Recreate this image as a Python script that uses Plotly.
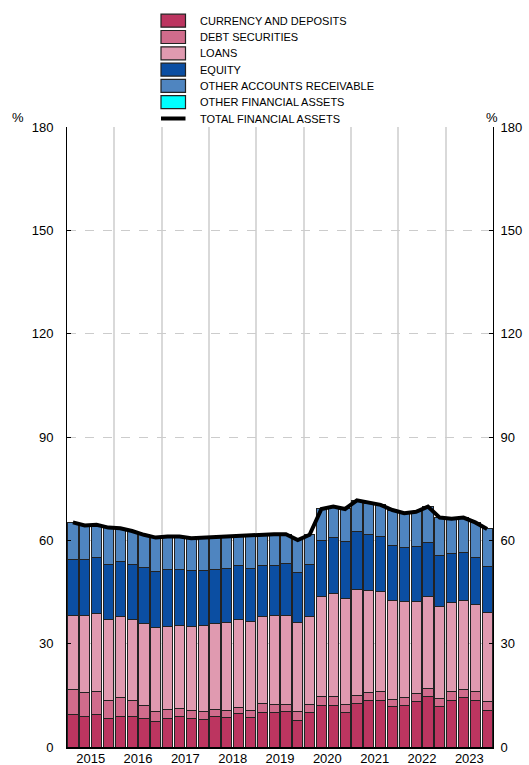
import plotly.graph_objects as go

quarters = [f"{y}Q{q}" for y in range(2015, 2024) for q in range(1, 5)]
years = ["2015", "2016", "2017", "2018", "2019", "2020", "2021", "2022", "2023"]

currency = [9.3, 9.0, 9.3, 8.2, 9.0, 8.9, 8.3, 7.3, 8.3, 8.8, 8.4, 8.1, 9.0, 8.6, 9.6, 8.6,
            10.0, 9.9, 10.2, 7.6, 9.9, 12.1, 12.1, 9.9, 12.5, 13.4, 13.6, 11.7, 12.1, 13.1, 14.8, 11.7,
            13.5, 14.4, 13.5, 10.7]
debt = [7.4, 6.7, 6.7, 5.3, 5.3, 4.5, 3.8, 2.9, 2.6, 2.4, 2.1, 2.2, 1.9, 1.9, 1.9, 1.9,
        2.5, 2.3, 2.0, 2.6, 2.3, 2.5, 2.5, 2.3, 2.4, 2.5, 2.5, 2.1, 2.3, 2.3, 2.2, 2.3,
        2.5, 2.3, 2.5, 2.4]
loans = [21.5, 22.5, 22.8, 23.5, 23.5, 23.5, 23.8, 24.4, 24.0, 24.1, 24.5, 25.0, 25.0, 25.7, 25.5, 25.9,
         25.5, 25.9, 26.0, 25.9, 25.8, 29.0, 30.0, 31.0, 30.7, 29.4, 29.0, 28.6, 27.7, 26.9, 26.6, 26.9,
         25.9, 25.8, 25.4, 25.9]
equity = [16.3, 16.1, 16.3, 16.1, 16.0, 16.1, 16.2, 16.4, 16.7, 16.3, 16.3, 16.0, 15.7, 15.7, 15.8, 15.5,
          14.8, 14.6, 15.1, 14.7, 15.1, 16.3, 16.3, 16.4, 16.9, 16.3, 16.0, 16.0, 15.8, 16.0, 15.8, 14.8,
          14.3, 14.1, 13.7, 13.4]
other_receivable = [10.7, 10.0, 9.4, 10.6, 9.7, 9.7, 9.5, 9.8, 9.5, 9.5, 9.3, 9.5, 9.2, 9.1, 8.6, 9.7,
                    9.0, 9.1, 8.5, 9.3, 8.5, 9.2, 8.9, 9.5, 9.1, 9.2, 9.2, 10.4, 10.0, 10.0, 10.4, 10.9,
                    10.1, 10.0, 10.1, 10.9]
other_financial = [0.0] * 36
total = [65.2, 64.3, 64.5, 63.7, 63.5, 62.7, 61.6, 60.8, 61.1, 61.1, 60.6, 60.8, 60.8, 61.0, 61.4, 61.6,
         61.8, 61.8, 61.8, 60.1, 61.6, 69.1, 69.8, 69.1, 71.6, 70.8, 70.3, 68.8, 67.9, 68.3, 69.8, 66.6,
         66.3, 66.6, 65.2, 63.3]

series_names = ["CURRENCY AND DEPOSITS", "DEBT SECURITIES", "LOANS", "EQUITY",
                "OTHER ACCOUNTS RECEIVABLE", "OTHER FINANCIAL ASSETS"]
series_values = [currency, debt, loans, equity, other_receivable, other_financial]
series_colors = ["#BC3560", "#D06C8C", "#E09AB0", "#0B4EA2", "#4F85C0", "#00FFFF"]
total_name = "TOTAL FINANCIAL ASSETS"

x = list(range(len(quarters)))

fig = go.Figure()
for name, vals, col in zip(series_names, series_values, series_colors):
    fig.add_trace(go.Bar(x=x, y=vals, name=name, customdata=quarters, showlegend=False,
                         marker=dict(color=col, line=dict(color="#222222", width=1)),
                         hovertemplate="%{customdata}: %{y}<extra>" + name + "</extra>"))
fig.add_trace(go.Scatter(x=x, y=total, name=total_name, mode="lines", showlegend=False,
                         line=dict(color="black", width=4), customdata=quarters,
                         hovertemplate="%{customdata}: %{y}<extra>TOTAL</extra>"))
# invisible trace to carry the right-hand axis
fig.add_trace(go.Scatter(x=x, y=total, yaxis="y2", mode="lines", line=dict(width=0),
                         showlegend=False, hoverinfo="skip", opacity=0))

# ---- manual legend (paper coordinates; plot area spans L..L+W px, T..T+H px) ----
L, R_MARGIN, T, B_MARGIN = 67.0, 36.0, 127.0, 18.0
W_PLOT, H_PLOT = 529.0 - L - R_MARGIN, 765.0 - T - B_MARGIN
def px(xp):
    return (xp - L) / W_PLOT
def py(yp):
    return (T + H_PLOT - yp) / H_PLOT

shapes = []
annotations = []
row_y = [20.7, 37.0, 53.3, 69.6, 85.9, 102.2, 118.5]
sw_l, sw_r, txt_x = 161.0, 185.5, 198.0
for i, (name, col) in enumerate(zip(series_names, series_colors)):
    yc = row_y[i]
    shapes.append(dict(type="rect", xref="paper", yref="paper",
                       x0=px(sw_l), x1=px(sw_r), y0=py(yc + 6.5), y1=py(yc - 6.5),
                       fillcolor=col, line=dict(color="#222222", width=1.2), layer="above"))
    annotations.append(dict(text=name, xref="paper", yref="paper", x=px(txt_x), y=py(yc),
                            xanchor="left", yanchor="middle", showarrow=False,
                            font=dict(size=11, color="black")))
yc = row_y[6]
shapes.append(dict(type="line", xref="paper", yref="paper", x0=px(sw_l), x1=px(sw_r),
                   y0=py(yc), y1=py(yc), line=dict(color="black", width=4), layer="above"))
annotations.append(dict(text=total_name, xref="paper", yref="paper", x=px(txt_x), y=py(yc),
                        xanchor="left", yanchor="middle", showarrow=False,
                        font=dict(size=11, color="black")))
annotations.append(dict(text="%", xref="paper", yref="paper", x=px(18), y=py(117), showarrow=False,
                        xanchor="center", yanchor="middle", font=dict(size=13)))
annotations.append(dict(text="%", xref="paper", yref="paper", x=px(491.5), y=py(117), showarrow=False,
                        xanchor="center", yanchor="middle", font=dict(size=13)))

year_pos = [4 * i + 1.5 for i in range(len(years))]
tickfont = dict(family="Liberation Sans, Arial, sans-serif", size=13, color="black")

fig.update_layout(
    width=529, height=765,
    margin=dict(l=L, r=R_MARGIN, t=T, b=B_MARGIN, autoexpand=False),
    paper_bgcolor="white", plot_bgcolor="white",
    barmode="stack", bargap=0.14,
    font=dict(family="Liberation Sans, Arial, sans-serif", color="black"),
    showlegend=False,
    xaxis=dict(range=[-0.5, 35.5], tickmode="array", tickvals=year_pos, ticktext=years,
               showgrid=False, ticks="", tickfont=tickfont, automargin=False,
               ticklabelstandoff=-2,
               showline=True, linecolor="black", linewidth=2,
               minor=dict(tickmode="linear", tick0=-0.5, dtick=4, showgrid=True,
                          gridcolor="#d9d9d9", gridwidth=1.5, ticks=""),
               zeroline=False, fixedrange=True),
    yaxis=dict(range=[0, 180], tickmode="linear", tick0=0, dtick=30, automargin=False,
               showgrid=True, gridcolor="#cccccc", griddash="dash", gridwidth=1,
               ticks="inside", ticklen=4, tickcolor="black",
               showline=True, linecolor="black", linewidth=1,
               tickfont=tickfont, ticklabelstandoff=10, zeroline=False),
    yaxis2=dict(range=[0, 180], tickmode="linear", tick0=0, dtick=30, overlaying="y", side="right",
                showgrid=False, ticks="inside", ticklen=4, tickcolor="black", automargin=False,
                showline=True, linecolor="black", linewidth=1,
                tickfont=tickfont, ticklabelstandoff=4, zeroline=False),
    shapes=shapes,
    annotations=annotations,
)

fig.write_html("out.html", config={"displayModeBar": False},
               post_script="document.body.style.margin='0px';document.body.style.overflow='hidden';")
